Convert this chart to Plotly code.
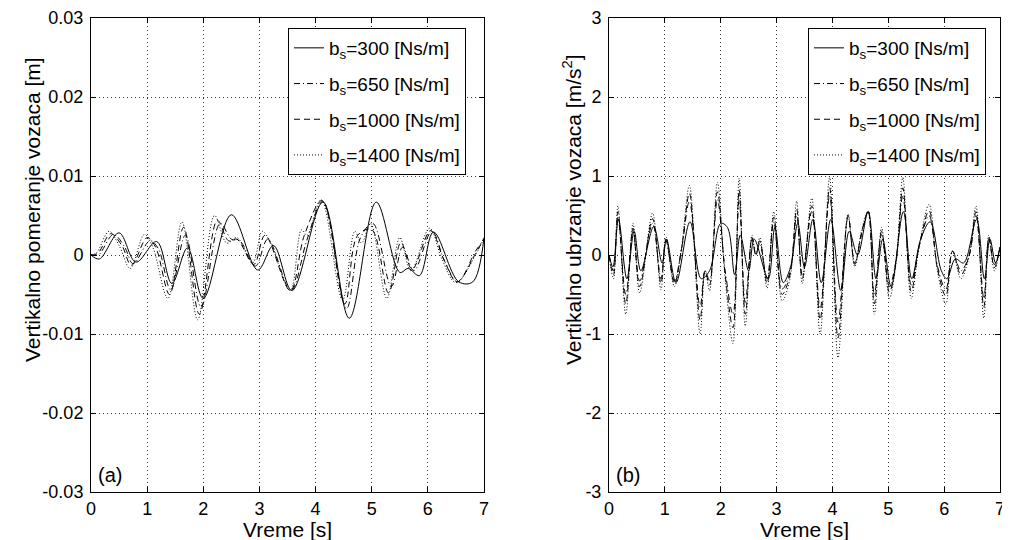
import plotly.graph_objects as go

# ---------------- data: displacement (left, [m]) ----------------
t300_d = [0, 0.15, 0.5, 0.8, 1.17, 1.44, 1.72, 2.0, 2.5, 2.97, 3.25, 3.58, 4.13, 4.6, 5.08, 5.5, 5.65, 5.85, 6.1, 6.55, 6.8, 7.0]
v300_d = [0, -0.0005, 0.0028, -0.0009, 0.0017, -0.0036, 0.0009, -0.0055, 0.0051, -0.0019, 0.0012, -0.0045, 0.0067, -0.0080, 0.0067, -0.0022, -0.0017, -0.0026, 0.0029, -0.0034, -0.0034, 0.0022]

t650_d = [0, 0.13, 0.4, 0.6, 0.75, 1.05, 1.2, 1.42, 1.68, 1.96, 2.3, 2.5, 2.65, 2.93, 3.15, 3.56, 3.85, 4.13, 4.55, 4.8, 5.02, 5.35, 5.55, 5.75, 6.07, 6.3, 6.53, 6.85, 7.0]
v650_d = [0, 0.0000, 0.0026, 0.0010, -0.0011, 0.0018, 0.0008, -0.0044, 0.0025, -0.0066, 0.0040, 0.0020, 0.0018, -0.0014, 0.0020, -0.0045, 0.0020, 0.0068, -0.0068, 0.0022, 0.0040, -0.0040, 0.0010, -0.0020, 0.0030, -0.0008, -0.0034, 0.0005, 0.0020]

t1000_d = [0, 0.12, 0.35, 0.55, 0.72, 1.0, 1.15, 1.4, 1.65, 1.93, 2.25, 2.45, 2.6, 2.9, 3.1, 3.55, 3.8, 4.12, 4.52, 4.75, 5.0, 5.3, 5.52, 5.72, 6.05, 6.28, 6.52, 6.85, 7.0]
v1000_d = [0, 0.0002, 0.0027, 0.0012, -0.0013, 0.0022, 0.0010, -0.0050, 0.0035, -0.0075, 0.0044, 0.0018, 0.0020, -0.0012, 0.0025, -0.0045, 0.0025, 0.0069, -0.0062, 0.0025, 0.0032, -0.0048, 0.0016, -0.0018, 0.0031, -0.0005, -0.0034, 0.0002, 0.0021]

t1400_d = [0, 0.1, 0.32, 0.5, 0.7, 0.95, 1.1, 1.37, 1.62, 1.9, 2.2, 2.42, 2.6, 2.88, 3.05, 3.2, 3.55, 3.75, 3.85, 4.1, 4.48, 4.7, 4.82, 4.98, 5.27, 5.5, 5.7, 6.03, 6.25, 6.5, 6.85, 7.0]
v1400_d = [0, 0.0003, 0.0030, 0.0012, -0.0017, 0.0026, 0.0010, -0.0055, 0.0042, -0.0082, 0.0050, 0.0015, 0.0022, -0.0010, 0.0030, 0.0015, -0.0045, 0.0032, 0.0025, 0.0070, -0.0057, 0.0030, 0.0015, 0.0040, -0.0055, 0.0022, -0.0020, 0.0034, -0.0005, -0.0035, 0.0000, 0.0022]

# ---------------- data: acceleration (right, [m/s^2]) ----------------
t300_a = [0, 0.07, 0.17, 0.32, 0.45, 0.57, 0.8, 0.95, 1.03, 1.2, 1.45, 1.65, 1.8, 2.0, 2.12, 2.25, 2.35, 2.5, 2.6, 2.85,
          2.97, 3.12, 3.25, 3.38, 3.5, 3.65, 3.8, 3.97, 4.15, 4.3, 4.45, 4.64, 4.78, 4.9, 5.05, 5.27, 5.42, 5.58, 5.75, 5.95,
          6.05, 6.2, 6.35, 6.58, 6.72, 6.82, 6.92, 7.0]
v300_a = [0, -0.15, 0.45, -0.3, 0.3, -0.2, 0.36, -0.1, 0.2, -0.35, 0.42, -0.3, -0.2, 0.4, 0.35, -0.25, 0.25, -0.2, 0.2, -0.3,
          0.35, -0.35, -0.15, 0.4, -0.15, 0.45, -0.35, 0.45, -0.45, 0.3, 0.0, 0.55, -0.3, 0.2, -0.4, 0.55, -0.3, 0.2, 0.42, -0.2,
          -0.3, -0.05, -0.1, 0.45, -0.3, 0.2, -0.1, 0.1]

t_a = [0, 0.08, 0.16, 0.3, 0.43, 0.55, 0.78, 0.93, 1.02, 1.17, 1.3, 1.44, 1.63, 1.72, 1.8, 1.94, 2.08, 2.22, 2.33, 2.44,
       2.56, 2.63, 2.7, 2.83, 2.95, 3.1, 3.24, 3.36, 3.46, 3.63, 3.78, 3.95, 4.1, 4.28, 4.4, 4.52, 4.64, 4.75, 4.88, 5.02,
       5.14, 5.26, 5.41, 5.55, 5.73, 5.88, 6.03, 6.15, 6.3, 6.45, 6.57, 6.71, 6.8, 6.9, 7.0]
v650_a = [0, -0.2, 0.48, -0.5, 0.3, -0.33, 0.4, -0.3, 0.18, -0.33, 0.08, 0.68, -0.66, -0.2, -0.32, 0.7, -0.2, -0.75, 0.7, -0.6,
          0.2, 0.0, 0.15, -0.3, 0.42, -0.43, -0.22, 0.5, -0.25, 0.55, -0.68, 0.75, -0.85, 0.48, -0.1, 0.25, 0.55, -0.5, 0.26, -0.4,
          -0.06, 0.75, -0.38, 0.1, 0.5, -0.14, -0.44, 0.05, -0.2, 0.0, 0.5, -0.55, 0.2, -0.12, 0.1]
v1000_a = [0, -0.25, 0.55, -0.62, 0.34, -0.4, 0.46, -0.36, 0.2, -0.36, 0.08, 0.78, -0.82, -0.2, -0.38, 0.8, -0.25, -0.92, 0.82, -0.75,
           0.22, 0.0, 0.18, -0.36, 0.48, -0.5, -0.25, 0.58, -0.3, 0.62, -0.82, 0.85, -1.05, 0.5, -0.12, 0.28, 0.55, -0.62, 0.3, -0.47,
           -0.08, 0.85, -0.46, 0.1, 0.56, -0.17, -0.52, 0.05, -0.25, 0.0, 0.55, -0.66, 0.22, -0.16, 0.1]
v1400_a = [0, -0.3, 0.62, -0.75, 0.40, -0.48, 0.53, -0.44, 0.23, -0.40, 0.1, 0.88, -1.0, -0.2, -0.45, 0.92, -0.3, -1.12, 0.97, -0.9,
           0.25, 0.0, 0.22, -0.42, 0.55, -0.58, -0.3, 0.68, -0.36, 0.72, -1.0, 0.98, -1.3, 0.52, -0.15, 0.3, 0.55, -0.75, 0.35, -0.55,
           -0.1, 0.98, -0.55, 0.1, 0.64, -0.2, -0.62, 0.05, -0.3, 0.0, 0.62, -0.8, 0.25, -0.2, 0.1]

labels = ["b<sub>s</sub>=300 [Ns/m]", "b<sub>s</sub>=650 [Ns/m]", "b<sub>s</sub>=1000 [Ns/m]", "b<sub>s</sub>=1400 [Ns/m]"]
dashes = ["solid", "6px,3px,1px,3px", "6px,4px", "1px,2px"]

x_ticks = [0, 1, 2, 3, 4, 5, 6, 7]
x_ticktext = ["0", "1", "2", "3", "4", "5", "6", "7"]
yd_ticks = [-0.03, -0.02, -0.01, 0, 0.01, 0.02, 0.03]
yd_ticktext = ["-0.03", "-0.02", "-0.01", "0", "0.01", "0.02", "0.03"]
ya_ticks = [-3, -2, -1, 0, 1, 2, 3]
ya_ticktext = ["-3", "-2", "-1", "0", "1", "2", "3"]

# The page body has an 8 px margin, so the figure is drawn 8 px in from the
# window's top-left corner; positions below are window pixels minus that offset.
OFF = 8
W, H = 1010 - OFF, 540 - OFF
FONT = "Liberation Sans, Arial, sans-serif"


def px(x):
    return (x - OFF) / W


def py(y):
    return 1 - (y - OFF) / H


fig = go.Figure()

left = [(t300_d, v300_d), (t650_d, v650_d), (t1000_d, v1000_d), (t1400_d, v1400_d)]
right = [(t300_a, v300_a), (t_a, v650_a), (t_a, v1000_a), (t_a, v1400_a)]

for i, (t, v) in enumerate(left):
    fig.add_trace(go.Scatter(x=t, y=v, mode="lines", name=labels[i], xaxis="x", yaxis="y",
                             line=dict(color="black", width=1, dash=dashes[i], shape="spline", smoothing=1.0),
                             legend="legend", legendgroup="L%d" % i))
for i, (t, v) in enumerate(right):
    fig.add_trace(go.Scatter(x=t, y=v, mode="lines", name=labels[i], xaxis="x2", yaxis="y2",
                             line=dict(color="black", width=1, dash=dashes[i], shape="spline", smoothing=1.0),
                             legend="legend2", legendgroup="R%d" % i))

axis_common = dict(showline=True, linecolor="black", linewidth=1, mirror="ticks",
                   ticks="inside", ticklen=5, tickcolor="black", automargin=False,
                   showgrid=True, gridcolor="#333333", gridwidth=1, griddash="1px,3px",
                   zeroline=False, tickfont=dict(family=FONT, size=18, color="black"))

leg_common = dict(yanchor="top", xanchor="right", bgcolor="white", bordercolor="black", borderwidth=1,
                  tracegroupgap=8, font=dict(family=FONT, size=19, color="black"))

fig.update_layout(
    width=W, height=H,
    margin=dict(l=0, r=0, t=0, b=0, autoexpand=False),
    paper_bgcolor="white", plot_bgcolor="white",
    font=dict(family=FONT, color="black"),
    xaxis=dict(domain=[px(91), px(484)], range=[0, 7], tickvals=x_ticks, ticktext=x_ticktext,
               anchor="y", **axis_common),
    yaxis=dict(domain=[py(492), py(18)], range=[-0.03, 0.03], tickvals=yd_ticks,
               ticktext=yd_ticktext, anchor="x", ticklabelstandoff=3, **axis_common),
    xaxis2=dict(domain=[px(609), px(1000)], range=[0, 7], tickvals=x_ticks, ticktext=x_ticktext,
                anchor="y2", **axis_common),
    yaxis2=dict(domain=[py(492), py(18)], range=[-3, 3], tickvals=ya_ticks,
                ticktext=ya_ticktext, anchor="x2", ticklabelstandoff=3, **axis_common),
    legend=dict(x=px(466), y=py(28), **leg_common),
    legend2=dict(x=px(986), y=py(28), **leg_common),
    showlegend=True,
)

ann_font = dict(family=FONT, size=21, color="black")
fig.add_annotation(text="Vertikalno pomeranje vozaca [m]", x=px(32), y=py(210), xref="paper", yref="paper",
                   textangle=-90, showarrow=False, font=ann_font, xanchor="center", yanchor="middle")
fig.add_annotation(text="Vertikalno ubrzanje vozaca [m/s<sup>2</sup>]", x=px(572), y=py(210), xref="paper",
                   yref="paper", textangle=-90, showarrow=False, font=ann_font, xanchor="center", yanchor="middle")
fig.add_annotation(text="Vreme [s]", x=px(287.5), y=py(529), xref="paper", yref="paper",
                   showarrow=False, font=ann_font, xanchor="center", yanchor="middle")
fig.add_annotation(text="Vreme [s]", x=px(804.5), y=py(529), xref="paper", yref="paper",
                   showarrow=False, font=ann_font, xanchor="center", yanchor="middle")
fig.add_annotation(text="(a)", x=px(110), y=py(475), xref="paper", yref="paper",
                   showarrow=False, font=dict(family=FONT, size=20, color="black"), xanchor="center", yanchor="middle")
fig.add_annotation(text="(b)", x=px(628), y=py(475), xref="paper", yref="paper",
                   showarrow=False, font=dict(family=FONT, size=20, color="black"), xanchor="center", yanchor="middle")

fig.write_html("out.html")
